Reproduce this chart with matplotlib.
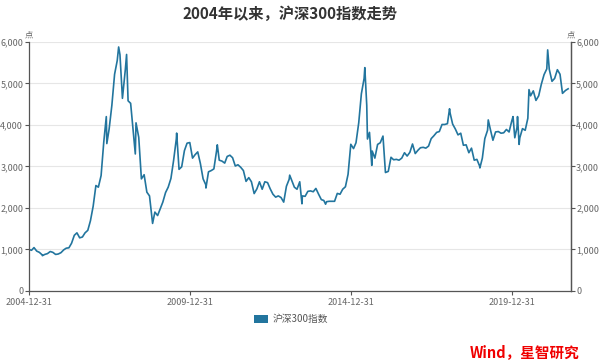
import numpy as np
import pandas as pd
import matplotlib
matplotlib.use("Agg")
import matplotlib.pyplot as plt
from matplotlib.patches import Patch

plt.rcParams['font.family'] = ['Noto Sans CJK SC', 'DejaVu Sans']

# CSI 300 (month ends plus main peaks / troughs)
dates = [
    "2004-12-31", "2005-01-31", "2005-02-28", "2005-03-31", "2005-04-30", "2005-05-31", "2005-06-03",
    "2005-06-30", "2005-07-31", "2005-08-31", "2005-09-30", "2005-10-31", "2005-11-30", "2005-12-31",
    "2006-01-31", "2006-02-28", "2006-03-31", "2006-04-30", "2006-05-31", "2006-06-30", "2006-07-31",
    "2006-08-31", "2006-09-30", "2006-10-31", "2006-11-30", "2006-12-31",
    "2007-01-31", "2007-02-28", "2007-03-31", "2007-04-30", "2007-05-29", "2007-06-04", "2007-06-30",
    "2007-07-31", "2007-08-31", "2007-09-30", "2007-10-16", "2007-10-31", "2007-11-28", "2007-12-31",
    "2008-01-14", "2008-01-31", "2008-02-29", "2008-03-31", "2008-04-22", "2008-04-30", "2008-05-31",
    "2008-06-30", "2008-07-31", "2008-08-31", "2008-09-30", "2008-10-31", "2008-11-04", "2008-11-30",
    "2008-12-31",
    "2009-01-31", "2009-02-28", "2009-03-31", "2009-04-30", "2009-05-31", "2009-06-30", "2009-07-31",
    "2009-08-04", "2009-08-31", "2009-09-30", "2009-10-31", "2009-11-30", "2009-12-31",
    "2010-01-31", "2010-02-28", "2010-03-31", "2010-04-30", "2010-05-31", "2010-06-30", "2010-07-02",
    "2010-07-31", "2010-08-31", "2010-09-30", "2010-10-31", "2010-11-08", "2010-11-30", "2010-12-31",
    "2011-01-31", "2011-02-28", "2011-03-31", "2011-04-30", "2011-05-31", "2011-06-30", "2011-07-31",
    "2011-08-31", "2011-09-30", "2011-10-31", "2011-11-30", "2011-12-31",
    "2012-01-31", "2012-02-29", "2012-03-31", "2012-04-30", "2012-05-31", "2012-06-30", "2012-07-31",
    "2012-08-31", "2012-09-30", "2012-10-31", "2012-11-30", "2012-12-31",
    "2013-01-31", "2013-02-06", "2013-02-28", "2013-03-31", "2013-04-30", "2013-05-31", "2013-06-25",
    "2013-06-30", "2013-07-31", "2013-08-31", "2013-09-30", "2013-10-31", "2013-11-30", "2013-12-31",
    "2014-01-31", "2014-02-28", "2014-03-20", "2014-03-31", "2014-04-30", "2014-05-31", "2014-06-30",
    "2014-07-31", "2014-08-31", "2014-09-30", "2014-10-31", "2014-11-30", "2014-12-31",
    "2015-01-31", "2015-02-28", "2015-03-31", "2015-04-30", "2015-05-31", "2015-06-08", "2015-06-30",
    "2015-07-08", "2015-07-31", "2015-08-26", "2015-08-31", "2015-09-30", "2015-10-31", "2015-11-30",
    "2015-12-31",
    "2016-01-28", "2016-02-29", "2016-03-31", "2016-04-30", "2016-05-31", "2016-06-30", "2016-07-31",
    "2016-08-31", "2016-09-30", "2016-10-31", "2016-11-30", "2016-12-31",
    "2017-01-31", "2017-02-28", "2017-03-31", "2017-04-30", "2017-05-31", "2017-06-30", "2017-07-31",
    "2017-08-31", "2017-09-30", "2017-10-31", "2017-11-30", "2017-12-31",
    "2018-01-24", "2018-01-31", "2018-02-28", "2018-03-31", "2018-04-30", "2018-05-31", "2018-06-30",
    "2018-07-31", "2018-08-31", "2018-09-30", "2018-10-31", "2018-11-30", "2018-12-31",
    "2019-01-03", "2019-01-31", "2019-02-28", "2019-03-31", "2019-04-08", "2019-04-30", "2019-05-31",
    "2019-06-30", "2019-07-31", "2019-08-31", "2019-09-30", "2019-10-31", "2019-11-30", "2019-12-31",
    "2020-01-14", "2020-02-03", "2020-02-28", "2020-03-05", "2020-03-23", "2020-03-31", "2020-04-30",
    "2020-05-31", "2020-06-30", "2020-07-13", "2020-07-31", "2020-08-31", "2020-09-30", "2020-10-31",
    "2020-11-30", "2020-12-31",
    "2021-01-31", "2021-02-10", "2021-02-28", "2021-03-31", "2021-04-30", "2021-05-31", "2021-06-30",
    "2021-07-28", "2021-08-31", "2021-09-30",
]
values = [
    1000, 980, 1045, 960, 930, 870, 850,
    880, 900, 950, 930, 880, 890, 923,
    990, 1030, 1040, 1150, 1340, 1400, 1280,
    1300, 1400, 1460, 1690, 2041,
    2540, 2500, 2780, 3580, 4200, 3550, 3900,
    4470, 5220, 5550, 5877, 5690, 4640, 5338,
    5697, 4580, 4520, 3790, 3300, 4050, 3700,
    2700, 2800, 2380, 2290, 1700, 1627, 1900,
    1817,
    1990, 2140, 2370, 2500, 2710, 3140, 3660,
    3803, 2930, 2990, 3380, 3560, 3575,
    3200, 3280, 3350, 3070, 2700, 2560, 2480,
    2870, 2900, 2940, 3380, 3520, 3150, 3128,
    3080, 3240, 3270, 3210, 3010, 3040, 2980,
    2900, 2640, 2730, 2630, 2346,
    2460, 2630, 2450, 2630, 2610, 2460, 2330,
    2260, 2290, 2250, 2140, 2523,
    2690, 2790, 2670, 2500, 2450, 2630, 2100,
    2290, 2280, 2400, 2410, 2390, 2470, 2330,
    2200, 2180, 2090, 2150, 2160, 2160, 2160,
    2350, 2330, 2450, 2510, 2810, 3533,
    3430, 3570, 4050, 4750, 5120, 5380, 4470,
    3660, 3820, 3025, 3370, 3200, 3530, 3570,
    3731,
    2853, 2880, 3220, 3160, 3170, 3150, 3200,
    3330, 3250, 3340, 3540, 3310,
    3390, 3450, 3460, 3440, 3490, 3670, 3740,
    3820, 3840, 4010, 4010, 4030,
    4389, 4280, 4020, 3900, 3760, 3800, 3510,
    3520, 3330, 3440, 3150, 3170, 3010,
    2964, 3200, 3670, 3870, 4120, 3910, 3630,
    3830, 3840, 3800, 3810, 3890, 3830, 4097,
    4200, 3690, 3940, 4200, 3530, 3690, 3910,
    3870, 4160, 4850, 4700, 4820, 4590, 4700,
    4980, 5211,
    5350, 5807, 5340, 5050, 5120, 5330, 5220,
    4760, 4830, 4870,
]
tick_dates = ["2004-12-31", "2009-12-31", "2014-12-31", "2019-12-31"]
series_name = "沪深300指数"

line_color = "#22759e"
axis_color = "#555555"
label_color = "#666666"

fig = plt.figure(figsize=(6, 3.61), dpi=100)
ax = fig.add_axes([0.048, 0.194, 0.903, 0.69])

x = pd.to_datetime(dates)
ax.plot(x, values, color=line_color, lw=1.2)

ax.set_xlim(pd.Timestamp("2004-12-31"), pd.Timestamp("2021-10-28"))
ax.set_ylim(0, 6000)
ax.set_yticks(np.arange(0, 6001, 1000))
ax.yaxis.set_major_formatter(matplotlib.ticker.StrMethodFormatter("{x:,.0f}"))
ax.set_xticks(pd.to_datetime(tick_dates))
ax.set_xticklabels(tick_dates)
ax.grid(axis="y", color="#e6e6e6", lw=0.8)
ax.set_axisbelow(True)

for s in ["left", "right", "bottom"]:
    ax.spines[s].set_color(axis_color)
    ax.spines[s].set_linewidth(0.9)
ax.spines["top"].set_visible(False)
ax.tick_params(colors=axis_color, labelcolor=label_color, labelsize=6.5, length=3, width=0.8)
ax.tick_params(axis="y", pad=1)
ax.tick_params(axis="x", pad=2)

ax2 = ax.twinx()
ax2.set_ylim(0, 6000)
ax2.set_yticks(np.arange(0, 6001, 1000))
ax2.yaxis.set_major_formatter(matplotlib.ticker.StrMethodFormatter("{x:,.0f}"))
for s in ["left", "top", "bottom"]:
    ax2.spines[s].set_visible(False)
ax2.spines["right"].set_color(axis_color)
ax2.spines["right"].set_linewidth(0.9)
ax2.tick_params(colors=axis_color, labelcolor=label_color, labelsize=6.5, length=3, width=0.8, pad=1)

fig.text(0.484, 0.962, "2004年以来，沪深300指数走势", ha="center", va="center",
         fontsize=11, fontweight="bold", color="#333333")
fig.text(0.048, 0.903, "点", ha="center", va="center", fontsize=6, color=label_color)
fig.text(0.951, 0.903, "点", ha="center", va="center", fontsize=6, color=label_color)

fig.legend(handles=[Patch(facecolor=line_color, label=series_name)], loc="center",
           bbox_to_anchor=(0.485, 0.116), frameon=False, fontsize=7, handlelength=1.5,
           handleheight=0.9, handletextpad=0.5, labelcolor="#555555")

fig.text(0.965, 0.025, "Wind，星智研究", ha="right", va="center", fontsize=10.5,
         fontweight="bold", style="italic", color="#f00000")

fig.savefig("out.png", dpi=100, facecolor="white")
